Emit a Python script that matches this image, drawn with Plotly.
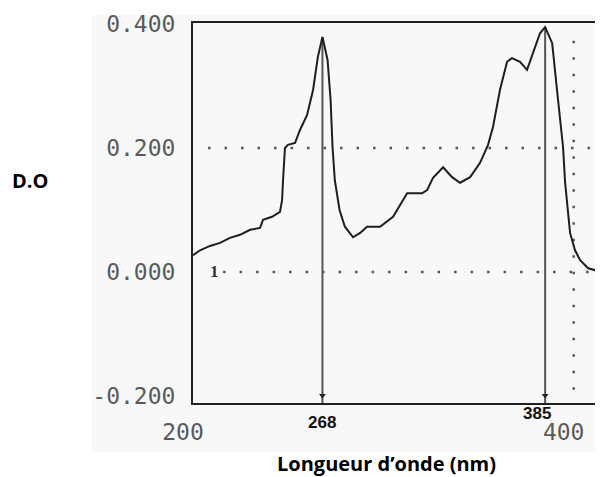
import plotly.graph_objects as go

# Spectrum (wavelength in nm, optical density)
wavelength = [200, 203.7, 208.9, 214.2, 219.4, 224.7, 230.0, 235.2, 236.8, 241.5, 245.7,
              246.8, 247.3, 248.3, 249.9, 253.6, 256.2, 259.9, 263.1, 265.6, 268.0,
              270.7, 272.3, 273.3, 274.5, 277.0, 279.8, 284.1, 287.8, 291.4, 298.3,
              305.1, 308.8, 312.5, 320.3, 323.0, 326.1, 331.4, 336.1, 340.3, 345.6,
              350.8, 355.0, 357.6, 361.3, 365.0, 367.6, 371.8, 375.5, 378.7, 382.3,
              385.0, 388.7, 391.8, 394.4, 395.5, 397.1, 398.1, 400.7, 403.4, 407.6,
              411.2, 415.4]
optical_density = [0.027, 0.035, 0.042, 0.047, 0.055, 0.060, 0.068, 0.071, 0.084, 0.089, 0.097,
                   0.116, 0.148, 0.200, 0.205, 0.208, 0.229, 0.253, 0.294, 0.347, 0.379,
                   0.342, 0.277, 0.202, 0.148, 0.100, 0.073, 0.056, 0.063, 0.073, 0.073,
                   0.089, 0.108, 0.127, 0.127, 0.132, 0.152, 0.169, 0.153, 0.144, 0.153,
                   0.176, 0.205, 0.234, 0.294, 0.339, 0.345, 0.339, 0.326, 0.353, 0.385,
                   0.395, 0.369, 0.277, 0.202, 0.144, 0.092, 0.063, 0.035, 0.019, 0.006,
                   0.003, 0.003]

peak_nm = [268, 385]
peak_do = [0.379, 0.395]
peak_labels = ["268", "385"]

grid_levels = [0.0, 0.2]
grid_start_nm = [215.8, 207.9]
vgrid_nm = [400]
vgrid_span = [-0.19, 0.382]

y_tickvals = [-0.2, 0.0, 0.2, 0.4]
y_ticktext = ["-0.200", "0.000", "0.200", "0.400"]
x_tickvals = [200, 400]
x_ticktext = ["200", "400"]

X_RANGE = [200, 415.4]
Y_RANGE = [-0.2113, 0.4016]

fig = go.Figure()

# dotted horizontal reference lines
for lvl, x0 in zip(grid_levels, grid_start_nm):
    fig.add_trace(go.Scatter(x=[x0, X_RANGE[1]], y=[lvl, lvl], mode="lines",
                             line=dict(color="#555", width=2.5, dash="2.5px,14px"),
                             hoverinfo="skip", showlegend=False))
# dotted vertical reference line
for xv in vgrid_nm:
    fig.add_trace(go.Scatter(x=[xv, xv], y=vgrid_span, mode="lines",
                             line=dict(color="#555", width=2.5, dash="2.5px,14px"),
                             hoverinfo="skip", showlegend=False))

# peak marker lines
for px, py in zip(peak_nm, peak_do):
    fig.add_trace(go.Scatter(x=[px, px], y=[py, Y_RANGE[0]], mode="lines",
                             line=dict(color="#555", width=2),
                             hoverinfo="skip", showlegend=False))
fig.add_trace(go.Scatter(x=peak_nm, y=[Y_RANGE[0] + 0.012] * len(peak_nm), mode="markers",
                         marker=dict(symbol="triangle-down", size=6, color="#222"),
                         hoverinfo="skip", showlegend=False))

# spectrum
fig.add_trace(go.Scatter(x=wavelength, y=optical_density, mode="lines",
                         line=dict(color="#1e1e1e", width=2),
                         showlegend=False))

annotations = []
for px, lab in zip(peak_nm, peak_labels):
    annotations.append(dict(x=px, y=Y_RANGE[0], xref="x", yref="y", text="<b>" + lab + "</b>",
                            showarrow=False, yanchor="top", xanchor="center",
                            yshift=-8 if lab == "268" else 1,
                            xshift=0 if lab == "268" else -8,
                            font=dict(family="Liberation Sans Narrow, Liberation Sans, Arial", size=17,
                                      color="#111")))
annotations.append(dict(x=grid_start_nm[0], y=0, xref="x", yref="y", text="<b>1</b>",
                        showarrow=False, xanchor="right", yanchor="middle", xshift=-2,
                        font=dict(family="Liberation Serif, serif", size=17, color="#333")))
annotations.append(dict(x=30, y=181, xref="paper", yref="paper", text="<b>D.O</b>",
                        showarrow=False, xanchor="center", yanchor="middle",
                        font=dict(family="Open Sans, sans-serif", size=20, color="#000")))
annotations.append(dict(x=386, y=463, xref="paper", yref="paper", text="<b>Longueur d’onde (nm)</b>",
                        showarrow=False, xanchor="center", yanchor="middle",
                        font=dict(family="Open Sans, sans-serif", size=20, color="#000")))

# page body has an 8px margin: figure is placed at (8, 8) in the window
OFF = 8
W, H = 603 - OFF, 477 - OFF
L, T = 193 - OFF, 23 - OFF
R, B = 0, H - (403 - OFF)
pw, ph = W - L - R, H - T - B
for a in annotations:
    if a["xref"] == "paper":
        a["x"] = (a["x"] - OFF - L) / pw
        a["y"] = (H - B - (a["y"] - OFF)) / ph

tick_font = dict(family="DejaVu Sans Mono, monospace", size=23, color="#5a5a5a")

fig.update_layout(
    width=W, height=H,
    margin=dict(l=L, r=R, t=T, b=B, pad=0, autoexpand=False),
    paper_bgcolor="white",
    plot_bgcolor="#f8f8f8",
    annotations=annotations,
    shapes=[dict(type="rect", xref="paper", yref="paper",
                 x0=(92 - OFF - L) / pw, x1=1.0,
                 y0=(H - B - (452 - OFF)) / ph, y1=(H - B - (15 - OFF)) / ph,
                 fillcolor="#f8f8f8", line=dict(width=0), layer="below")],
    xaxis=dict(range=X_RANGE, tickvals=x_tickvals, ticktext=x_ticktext, automargin=False,
               showgrid=False, zeroline=False, showline=True, mirror=True,
               linecolor="#222", linewidth=2, ticks="",
               ticklabelshift=-10, ticklabelstandoff=7, tickfont=tick_font),
    yaxis=dict(range=Y_RANGE, tickvals=y_tickvals, ticktext=y_ticktext, automargin=False,
               showgrid=False, zeroline=False, showline=True, mirror=False,
               linecolor="#222", linewidth=2, ticks="", ticklabelstandoff=11,
               tickfont=tick_font),
)

fig.write_html("out.html")
